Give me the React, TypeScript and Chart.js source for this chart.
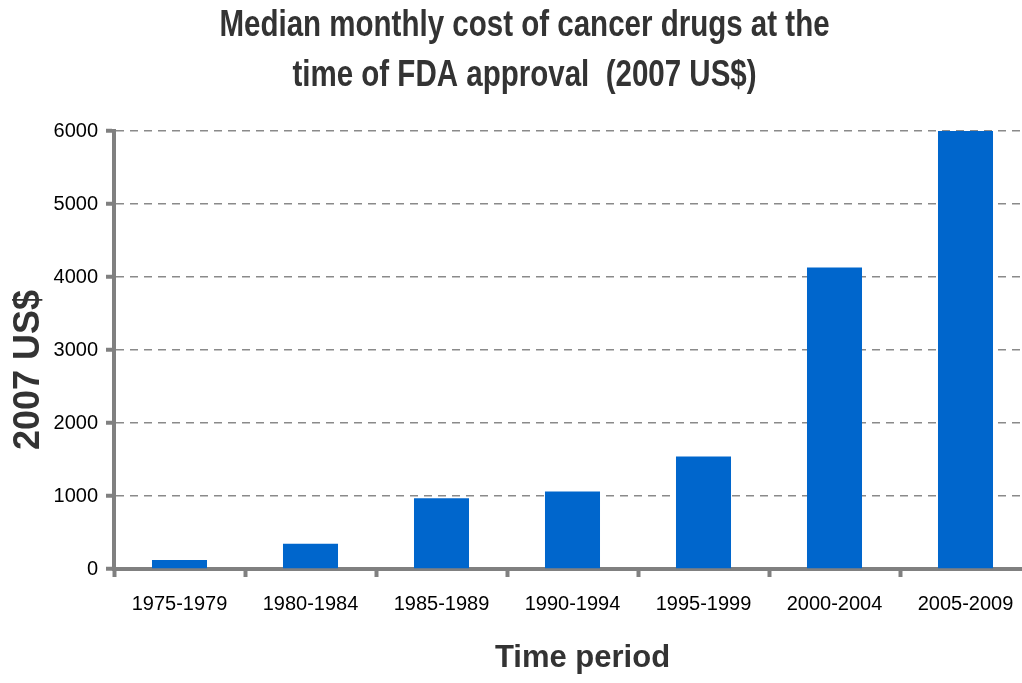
import React, { useEffect, useRef } from "react";
import { Chart, registerables } from "chart.js";

Chart.register(...registerables);

const categories = ["1975-1979", "1980-1984", "1985-1989", "1990-1994", "1995-1999", "2000-2004", "2005-2009"];
const medianMonthlyCost = [125, 345, 970, 1060, 1540, 4130, 6000];
const yTickMin = 0;
const yTickMax = 6000;
const yTickStep = 1000;
const titleLines = ["Median monthly cost of cancer drugs at the", "time of FDA approval  (2007 US$)"];
const yAxisTitle = "2007 US$";
const xAxisTitle = "Time period";

const SANS = "'Liberation Sans', Arial, sans-serif";

// Narrow-style title (Arial Narrow look) and small offsets for the axis titles.
const titleStyling = {
  id: "titleStyling",
  afterLayout(chart: any) {
    const tb = chart.titleBlock;
    if (tb && !tb.__patched) {
      const orig = tb.draw.bind(tb);
      tb.draw = (...args: any[]) => {
        const ctx = chart.ctx;
        const cx = (tb.left + tb.right) / 2;
        ctx.save();
        ctx.translate(cx, 0);
        ctx.scale(0.82, 1);
        ctx.translate(-cx, 0);
        orig(...args);
        ctx.restore();
      };
      tb.__patched = true;
    }
    const shift = (scale: any, dx: number, dy: number) => {
      if (!scale || scale.__patched) return;
      const orig = scale.drawTitle.bind(scale);
      scale.drawTitle = (...args: any[]) => {
        const ctx = scale.ctx;
        ctx.save();
        ctx.translate(dx, dy);
        orig(...args);
        ctx.restore();
      };
      scale.__patched = true;
    };
    shift(chart.scales.x, 10, 0);
    shift(chart.scales.y, 0, 20);
  },
};

export default function App() {
  const canvasRef = useRef<HTMLCanvasElement | null>(null);

  useEffect(() => {
    const canvas = canvasRef.current;
    if (!canvas) return;
    const chart = new Chart(canvas, {
      type: "bar",
      data: {
        labels: categories,
        datasets: [
          {
            data: medianMonthlyCost,
            backgroundColor: "#0066CC",
            borderWidth: 0,
            barPercentage: 0.42,
            categoryPercentage: 1.0,
          },
        ],
      },
      plugins: [titleStyling],
      options: {
        responsive: false,
        animation: false,
        devicePixelRatio: 1,
        layout: { padding: { left: 18, right: 0, top: 0, bottom: 0 } },
        plugins: {
          legend: { display: false },
          tooltip: { enabled: false },
          title: {
            display: true,
            text: titleLines,
            color: "#333333",
            font: { family: SANS, size: 36, weight: "bold", lineHeight: 50 / 36 },
            padding: { top: 1.5, bottom: 29.5 },
          },
        },
        scales: {
          x: {
            z: 1,
            afterFit: (scale: any) => {
              scale.height = 114;
            },
            grid: {
              display: true,
              drawOnChartArea: false,
              drawTicks: true,
              tickLength: 8,
              tickWidth: 4,
              tickColor: "#808080",
              color: "#808080",
              offset: true,
            },
            border: { display: true, color: "#808080", width: 4 },
            ticks: {
              color: "#000000",
              font: { family: SANS, size: 20 },
              padding: 15,
              maxRotation: 0,
              autoSkip: false,
            },
            title: {
              display: true,
              text: xAxisTitle,
              color: "#333333",
              font: { family: SANS, size: 31, weight: "bold", lineHeight: 1.2 },
              padding: { top: 0, bottom: 6 },
            },
          },
          y: {
            min: yTickMin,
            max: yTickMax,
            afterFit: (scale: any) => {
              scale.width = 96;
            },
            grid: {
              display: true,
              color: "#8a8a8a",
              lineWidth: 1.5,
              drawTicks: true,
              tickLength: 8,
              tickWidth: 4,
              tickColor: "#808080",
            },
            border: { display: true, color: "#808080", width: 4, dash: [8, 6] },
            ticks: {
              stepSize: yTickStep,
              color: "#000000",
              font: { family: SANS, size: 20 },
              padding: 8,
              callback: (value: any) => String(value),
            },
            title: {
              display: true,
              text: yAxisTitle,
              color: "#333333",
              font: { family: SANS, size: 36, weight: "bold", lineHeight: 1 },
              padding: { top: -7, bottom: 0 },
            },
          },
        },
      },
    });
    return () => chart.destroy();
  }, []);

  return (
    <div
      style={{
        position: "fixed",
        left: 0,
        top: 0,
        width: 1022,
        height: 683,
        overflow: "hidden",
        background: "#ffffff",
      }}
    >
      <canvas ref={canvasRef} width={1031} height={683} style={{ display: "block", width: 1031, height: 683 }} />
    </div>
  );
}
